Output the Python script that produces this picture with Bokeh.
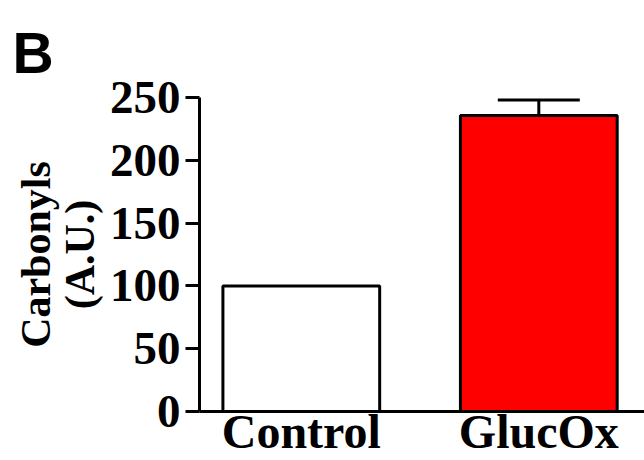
from bokeh.plotting import figure
from bokeh.models import (Range1d, FixedTicker, Whisker, TeeHead, ColumnDataSource)
from bokeh.embed import file_html
from bokeh.resources import INLINE

# ---- data ----
categories = ["Control", "GlucOx"]
means = [100, 235.6]
sems = [0, 12.4]
bar_colors = ["#FFFFFF", "#FF0000"]
yticks = [0, 50, 100, 150, 200, 250]
y_label_lines = ["Carbonyls", "(A.U.)"]
panel_letter = "B"

xpos = [i + 0.5 for i in range(len(categories))]

src = ColumnDataSource(dict(x=xpos, top=means, color=bar_colors, cat=categories))
err_x = [x for x, s in zip(xpos, sems) if s > 0]
err_lo = [m for m, s in zip(means, sems) if s > 0]
err_hi = [m + s for m, s in zip(means, sems) if s > 0]
err_src = ColumnDataSource(dict(x=err_x, lower=err_lo, upper=err_hi))

p = figure(width=644, height=460, output_backend="svg", toolbar_location=None,
           x_range=Range1d(0.0714, 1.945), y_range=Range1d(0, 250),
           min_border_left=199, min_border_right=0, min_border_top=97,
           min_border_bottom=48)
p.outline_line_color = None
p.xgrid.visible = False
p.ygrid.visible = False
p.background_fill_color = "white"
p.border_fill_color = "white"

SERIF = "Liberation Serif"

# panel letter as title
p.title.text = panel_letter
p.title.text_font = "Liberation Sans"
p.title.text_font_style = "bold"
p.title.text_font_size = "57px"
p.title.text_color = "black"
p.title.align = "left"
p.title.offset = -187
p.title.standoff = 25

wh = Whisker(base="x", lower="lower", upper="upper", source=err_src,
             dimension="height", line_width=3, line_color="black",
             upper_head=TeeHead(size=82, line_width=3, line_color="black"),
             lower_head=None)
p.add_layout(wh)

p.vbar(x="x", top="top", bottom=0, width=0.66, fill_color="color",
       line_color="black", line_width=3, source=src)

ya = p.yaxis[0]
ya.ticker = FixedTicker(ticks=yticks)
ya.minor_tick_line_color = None
ya.major_tick_out = 14
ya.major_tick_in = 0
ya.major_tick_line_width = 3
ya.major_tick_line_color = "black"
ya.axis_line_width = 3
ya.axis_line_color = "black"
ya.major_label_text_font = SERIF
ya.major_label_text_font_style = "bold"
ya.major_label_text_font_size = "47px"
ya.major_label_text_color = "black"
ya.major_label_standoff = 5
ya.axis_label = "\n".join(y_label_lines)
ya.axis_label_text_font = SERIF
ya.axis_label_text_font_style = "bold"
ya.axis_label_text_font_size = "42px"
ya.axis_label_text_color = "black"
ya.axis_label_standoff = 4
ya.axis_label_text_line_height = 0.95

xa = p.xaxis[0]
xa.ticker = FixedTicker(ticks=xpos)
xa.major_label_overrides = {x: c for x, c in zip(xpos, categories)}
xa.minor_tick_line_color = None
xa.major_tick_line_color = None
xa.major_tick_out = 0
xa.major_tick_in = 0
xa.axis_line_width = 3
xa.axis_line_color = "black"
xa.major_label_text_font = SERIF
xa.major_label_text_font_style = "bold"
xa.major_label_text_font_size = "48px"
xa.major_label_text_color = "black"
xa.major_label_standoff = -7

open("out.html", "w").write(file_html(p, INLINE))
